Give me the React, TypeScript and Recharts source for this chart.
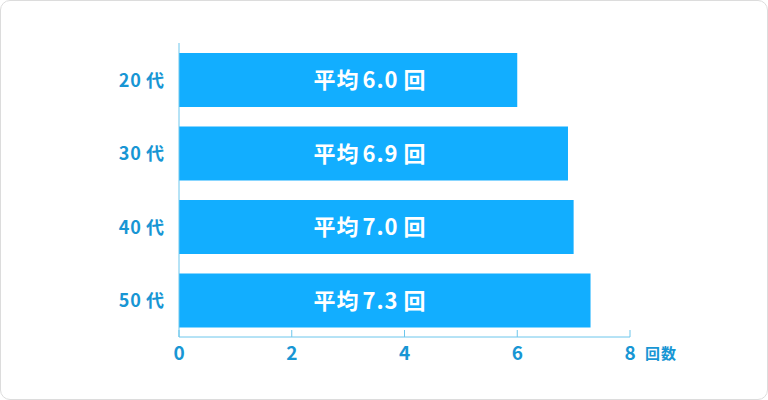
import { BarChart, Bar, XAxis, YAxis, LabelList } from "recharts";

const ages = ["20代", "30代", "40代", "50代"];
const averages = [6.0, 6.9, 7.0, 7.3];
const xTicks = [0, 2, 4, 6, 8];
const unitLabel = "回数";

const data = ages.map((age, i) => ({ age, avg: averages[i] }));

const BAR = "#12aeff";
const AXIS = "#6cc6ec";
const TEXT = "#1896d4";
const FONT = "'Noto Sans CJK JP', 'Noto Sans', sans-serif";

function AgeTick({ x, y, payload }: any) {
  const v = String(payload.value);
  const num = v.replace("代", "");
  return (
    <text x={x} y={y} dy={7} textAnchor="end" fill={TEXT} fontSize={18} fontWeight={700} fontFamily={FONT} letterSpacing={1}>
      <tspan>{num}</tspan>
      <tspan dx={4}>代</tspan>
    </text>
  );
}

function CountTick({ x, y, payload }: any) {
  return (
    <g>
      <line x1={x} y1={y - 7} x2={x} y2={y} stroke={AXIS} strokeWidth={1} />
      <text x={x} y={y + 23} textAnchor="middle" fill={TEXT} fontSize={19} fontWeight={700} fontFamily={FONT}>
        {payload.value}
      </text>
      {payload.value === xTicks[xTicks.length - 1] ? (
        <text x={x + 15} y={y + 22} textAnchor="start" fill={TEXT} fontSize={15} fontWeight={700} fontFamily={FONT} letterSpacing={1}>
          {unitLabel}
        </text>
      ) : null}
    </g>
  );
}

function AvgLabel({ x, y, height, value }: any) {
  return (
    <text
      x={x + 191}
      y={y + height / 2}
      dy={8}
      textAnchor="middle"
      fill="#fff"
      fontSize={22}
      fontWeight={700}
      fontFamily={FONT}
      letterSpacing={1}
    >
      <tspan>平均</tspan>
      <tspan dx={3}>{Number(value).toFixed(1)}</tspan>
      <tspan dx={5}>回</tspan>
    </text>
  );
}

export default function App() {
  return (
    <div
      style={{
        position: "fixed",
        left: 0,
        top: 0,
        width: 766,
        height: 398,
        border: "1px solid #dcdcdc",
        borderRadius: 10,
        background: "#fff",
        overflow: "hidden",
      }}
    >
      <div style={{ position: "absolute", left: -1, top: -1 }}>
        <BarChart
          width={768}
          height={400}
          data={data}
          layout="vertical"
          margin={{ top: 43, right: 138, left: 0, bottom: 33 }}
          barCategoryGap={10}
        >
          <XAxis
            type="number"
            domain={[0, 8]}
            ticks={xTicks}
            axisLine={{ stroke: AXIS }}
            tickLine={false}
            tickSize={0}
            tickMargin={0}
            height={30}
            tick={<CountTick />}
            interval={0}
          />
          <YAxis
            type="category"
            dataKey="age"
            width={179}
            axisLine={{ stroke: AXIS }}
            tickLine={false}
            tickSize={0}
            tickMargin={14}
            tick={<AgeTick />}
          />
          <Bar dataKey="avg" fill={BAR} isAnimationActive={false}>
            <LabelList dataKey="avg" content={<AvgLabel />} />
          </Bar>
        </BarChart>
      </div>
    </div>
  );
}
